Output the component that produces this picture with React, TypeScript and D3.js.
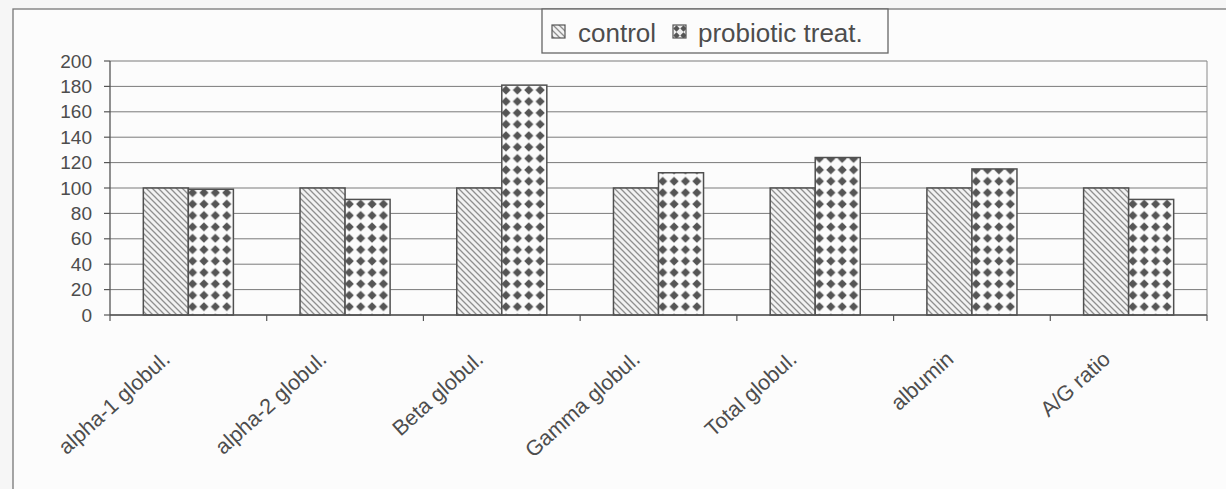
import React from "react";
import * as d3 from "d3";

const categories = [
  "alpha-1 globul.",
  "alpha-2 globul.",
  "Beta globul.",
  "Gamma globul.",
  "Total globul.",
  "albumin",
  "A/G ratio",
];
const seriesNames = ["control", "probiotic treat."];
const controlValues = [100, 100, 100, 100, 100, 100, 100];
const probioticValues = [99, 91, 181, 112, 124, 115, 91];
const yTickValues = [0, 20, 40, 60, 80, 100, 120, 140, 160, 180, 200];

const W = 1226;
const H = 489;
const FONT = "'Liberation Sans', Arial, Helvetica, sans-serif";
const TEXT = "#4d4d4d";

export default function App() {
  const plot = { left: 110, right: 1207, top: 61, bottom: 315 };
  const x = d3.scaleBand<string>().domain(categories).range([plot.left, plot.right]).paddingInner(0).paddingOuter(0);
  const xs = d3.scaleBand<string>().domain(seriesNames).range([0, x.bandwidth()]).paddingInner(0).paddingOuter(0.74);
  const y = d3.scaleLinear().domain([0, 200]).range([plot.bottom, plot.top]);
  const bw = xs.bandwidth();

  const bars = categories.flatMap((c, i) => [
    { key: `c${i}`, series: seriesNames[0], cat: c, v: controlValues[i], x: (x(c) as number) + (xs(seriesNames[0]) as number) },
    { key: `p${i}`, series: seriesNames[1], cat: c, v: probioticValues[i], x: (x(c) as number) + (xs(seriesNames[1]) as number) },
  ]);

  const P = 11.4;
  const diamond = (cx: number, cy: number, r: number) => `M${cx},${cy - r}L${cx + r},${cy}L${cx},${cy + r}L${cx - r},${cy}Z`;

  const boundaries = [...categories.map((c) => x(c) as number), plot.right];

  return (
    <svg width={W} height={H} style={{ position: "absolute", left: 0, top: 0 }} fontFamily={FONT}>
      <defs>
        <pattern id="hatch" patternUnits="userSpaceOnUse" width={6} height={6}>
          <rect width={6} height={6} fill="#f2f2f2" />
          <path d="M0,0L6,6M-1,5L1,7M5,-1L7,1" stroke="#8f8f8f" strokeWidth={1.3} />
        </pattern>
        {bars
          .filter((b) => b.series === seriesNames[1])
          .map((b) => (
            <pattern key={b.key} id={`dots-${b.key}`} patternUnits="userSpaceOnUse" x={b.x - 1.5} y={plot.bottom - 14} width={P} height={P}>
              <rect width={P} height={P} fill="#fbfbfb" />
              <path d={diamond(P / 2, P / 2, 4.6)} fill="#555" />
            </pattern>
          ))}
        <pattern id="dots-legend" patternUnits="userSpaceOnUse" x={673} y={25} width={7} height={7}>
          <rect width={7} height={7} fill="#eee" />
          <path d={diamond(3.5, 3.5, 3.2)} fill="#555" />
        </pattern>
      </defs>

      <rect x={0} y={0} width={W} height={H} fill="#f6f6f6" />
      <rect x={13} y={9} width={W + 20} height={H + 20} fill="#fcfcfc" stroke="#777" strokeWidth={1.3} />

      {/* gridlines */}
      {yTickValues.map((t) => (
        <line key={`g${t}`} x1={plot.left} x2={plot.right} y1={y(t)} y2={y(t)} stroke="#7a7a7a" strokeWidth={1} />
      ))}
      <line x1={plot.right} x2={plot.right} y1={plot.top} y2={plot.bottom} stroke="#8a8a8a" strokeWidth={1} />

      {/* bars */}
      {bars.map((b) => (
        <rect
          key={b.key}
          x={b.x}
          y={y(b.v)}
          width={bw}
          height={plot.bottom - y(b.v)}
          fill={b.series === seriesNames[0] ? "url(#hatch)" : `url(#dots-${b.key})`}
          stroke="#505050"
          strokeWidth={1.5}
        />
      ))}

      {/* axes */}
      <line x1={plot.left} x2={plot.left} y1={plot.top} y2={plot.bottom} stroke="#555" strokeWidth={1.3} />
      <line x1={plot.left} x2={plot.right} y1={plot.bottom} y2={plot.bottom} stroke="#555" strokeWidth={1.5} />
      {yTickValues.map((t) => (
        <g key={`t${t}`}>
          <line x1={plot.left - 6} x2={plot.left} y1={y(t)} y2={y(t)} stroke="#555" strokeWidth={1.2} />
          <text x={92} y={y(t)} dy="0.35em" textAnchor="end" fontSize={19} fill={TEXT}>
            {t}
          </text>
        </g>
      ))}
      {boundaries.map((bx, i) => (
        <line key={`xt${i}`} x1={bx} x2={bx} y1={plot.bottom} y2={plot.bottom + 6} stroke="#555" strokeWidth={1.2} />
      ))}
      {categories.map((c) => {
        const cx = (x(c) as number) + x.bandwidth() / 2;
        return (
          <text key={`xl${c}`} transform={`translate(${cx - 17},${361}) rotate(-42)`} textAnchor="end" fontSize={21.5} fill={TEXT}>
            {c}
          </text>
        );
      })}

      {/* legend */}
      <rect x={542} y={9} width={346} height={44} fill="#fcfcfc" stroke="#666" strokeWidth={1.3} />
      <rect x={552} y={25} width={13} height={13} fill="url(#hatch)" stroke="#555" strokeWidth={1.2} />
      <text x={578} y={42} fontSize={26} fill={TEXT}>
        {seriesNames[0]}
      </text>
      <rect x={673} y={25} width={13} height={13} fill="url(#dots-legend)" stroke="#555" strokeWidth={1.2} />
      <text x={698} y={42} fontSize={26} fill={TEXT}>
        {seriesNames[1]}
      </text>
    </svg>
  );
}
